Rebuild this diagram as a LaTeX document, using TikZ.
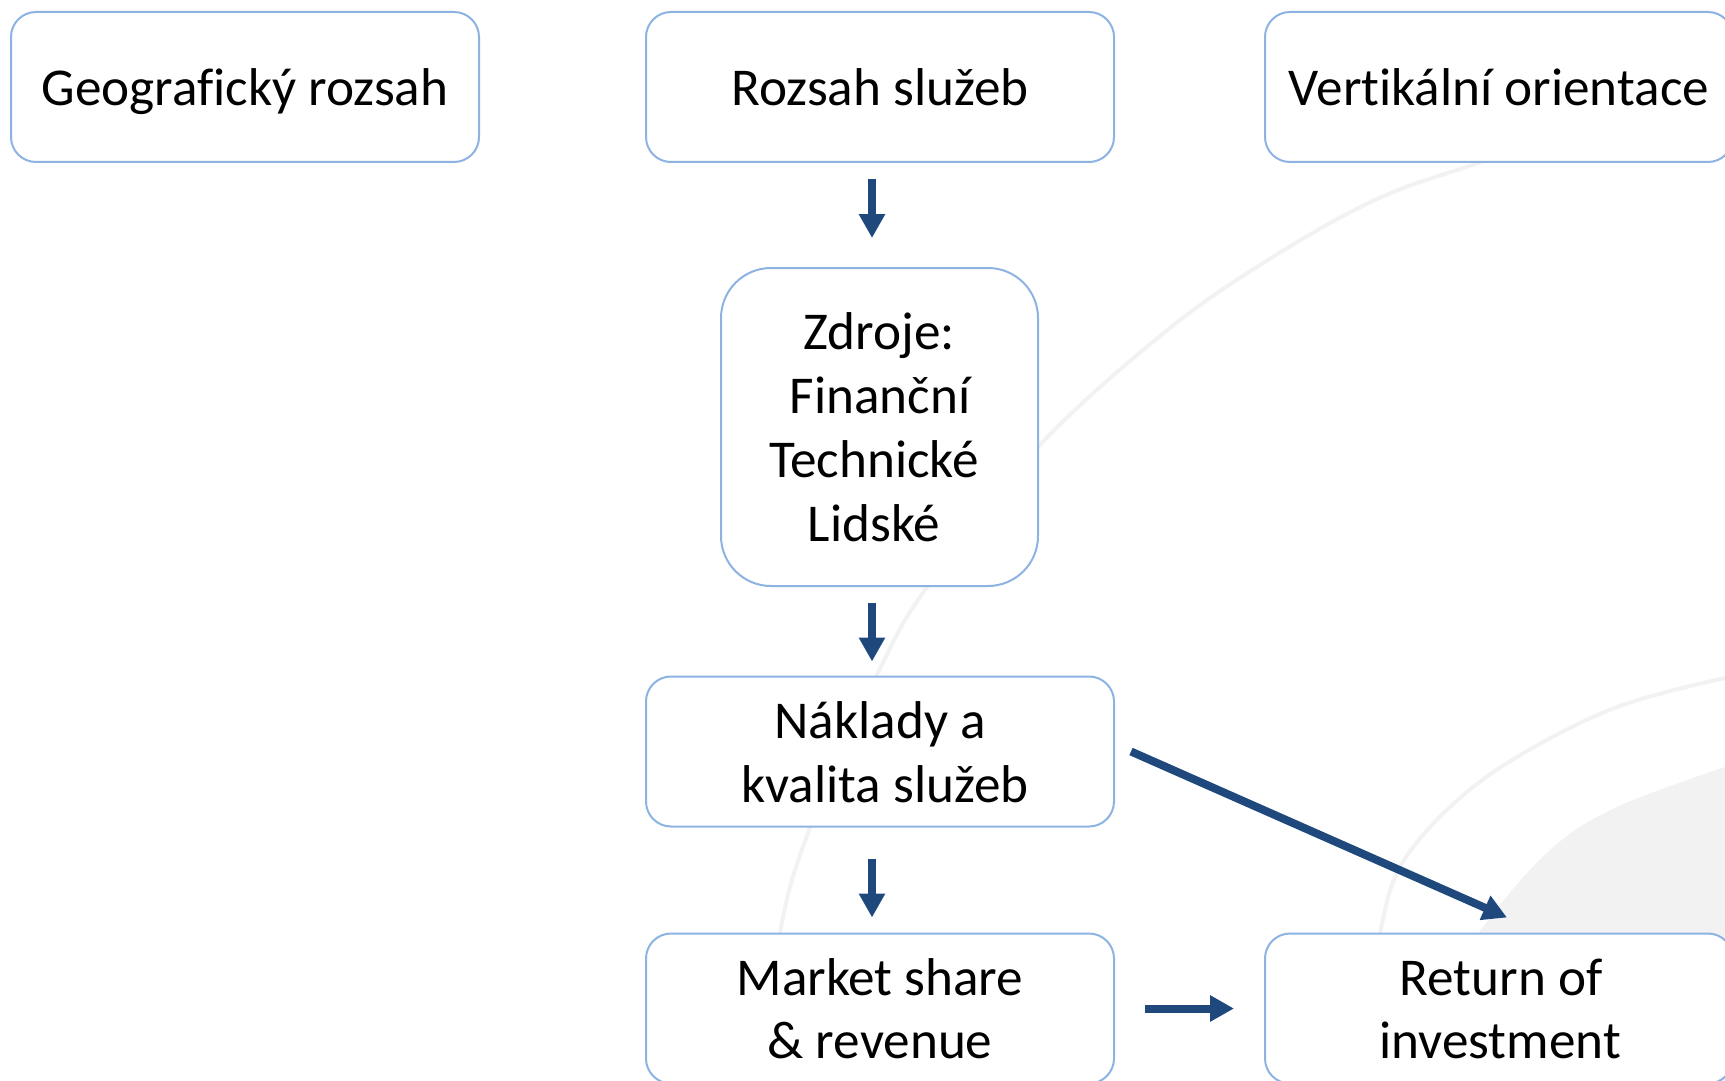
\documentclass[tikz,border=0pt]{standalone}
\usepackage{fontspec}
\setmainfont{Carlito}[Ligatures={NoCommon,NoRare}]
\usetikzlibrary{arrows.meta}
\definecolor{boxline}{RGB}{141,179,226}
\definecolor{arr}{RGB}{31,73,125}
\definecolor{bgl}{RGB}{242,242,242}
\tikzset{
  box/.style={draw=boxline, line width=1pt, fill=white, rounded corners=12.5pt,
    minimum width=234pt, minimum height=75pt, inner sep=0pt},
  bigbox/.style={box, rounded corners=25pt, minimum width=158.5pt, minimum height=159pt},
  txt/.style={anchor=base, inner sep=0pt, font=\fontsize{26.6}{32}\selectfont},
  conn/.style={draw=arr, line width=4pt, -{Triangle[width=12.5pt,length=12pt]}},
  bgline/.style={draw=bgl, line width=2pt}
}
\begin{document}
\begin{tikzpicture}[x=0.5pt, y=-0.5pt]
\useasboundingbox (0,0) rectangle (1725,1081);
% background decoration
\fill[bgl] plot[smooth, tension=0.6] coordinates {(1725,767) (1617,807) (1550,850) (1483,927) (1440,1000) (1415,1081)} -- (1725,1081) -- cycle;
\draw[bgline] plot[smooth, tension=0.6] coordinates {(1700,90) (1478,163) (1375,200) (1268,260) (1165,332) (1038,447) (927,587) (877,675) (810,828) (780,933) (765,1081)};
\draw[bgline] plot[smooth, tension=0.6] coordinates {(1725,678) (1617,707) (1517,757) (1450,807) (1400,867) (1380,933) (1370,1000)};
% boxes
\node[box] (geo) at (245,87) {};
\node[box] (roz) at (880,87) {};
\node[box] (ver) at (1499,87) {};
\node[bigbox] (zdr) at (879.5,427) {};
\node[box] (nak) at (880,751.5) {};
\node[box] (mar) at (880,1008.5) {};
\node[box] (ret) at (1499,1008.5) {};
% texts
\node[txt] (tgeo) at (245,105) {Geografický rozsah};
\node[txt] (troz) at (880,105) {Rozsah služeb};
\node[txt] (tver) at (1499,105) {Vert\kern0ptikální orientace};
\node[txt] (tz1) at (879,349) {Zdroje:};
\node[txt] (tz2) at (880,413) {Finanční};
\node[txt] (tz3) at (874,477) {Technické};
\node[txt] (tz4) at (874,541) {Lidské};
\node[txt] (tn1) at (880,738) {Náklady a};
\node[txt] (tn2) at (885,802) {kvalita služeb};
\node[txt] (tm1) at (880,995) {Market share};
\node[txt] (tm2) at (880,1058) {\& revenue};
\node[txt] (tr1) at (1501,995) {Return of};
\node[txt] (tr2) at (1500,1058) {investment};
% connectors
\draw[conn] ([xshift=-4pt,yshift=-8pt]roz.south) -- ([xshift=-3.75pt,yshift=14.5pt]zdr.north);
\draw[conn] ([xshift=-3.75pt,yshift=-8pt]zdr.south) -- ([xshift=-4pt,yshift=7pt]nak.north);
\draw[conn] ([xshift=-4pt,yshift=-15.5pt]nak.south) -- ([xshift=-4pt,yshift=7.5pt]mar.north);
\draw[conn] ([xshift=15pt]mar.east) -- ([xshift=-15pt]ret.west);
\draw[conn] ([xshift=8pt]nak.east) -- ([xshift=4pt,yshift=7.5pt]ret.north);
\end{tikzpicture}
\end{document}
